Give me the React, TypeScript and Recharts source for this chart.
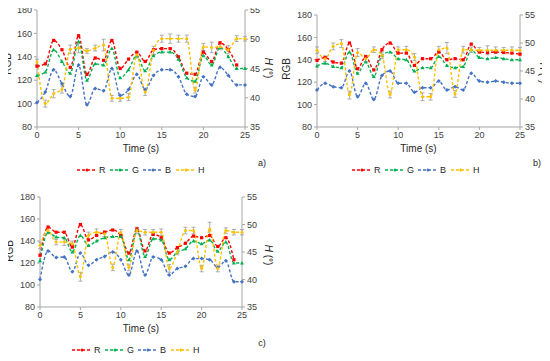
import React from "react";
import { ComposedChart, Line, XAxis, YAxis, ErrorBar } from "recharts";

const TIME = [0, 1, 2, 3, 4, 5, 6, 7, 8, 9, 10, 11, 12, 13, 14, 15, 16, 17, 18, 19, 20, 21, 22, 23, 24, 25];
const X_TICKS = [0, 5, 10, 15, 20, 25];
const RGB_TICKS = [80, 100, 120, 140, 160, 180];
const H_TICKS = [35, 40, 45, 50, 55];

// panel a)
const A_R = [132, 134, 154, 146, 131, 158, 125, 139, 137, 154, 130, 138, 144, 136, 146, 147, 147, 140, 126, 125, 144, 136, 152, 146, 133, null];
const A_G = [124, 127, 146, 136, 126, 153, 120, 134, 133, 147, 122, 129, 141, 128, 141, 144, 144, 138, 122, 119, 141, 133, 148, 140, 130, 130];
const A_B = [101, 110, 129, 117, 106, 133, 99, 113, 111, 130, 107, 112, 125, 112, 124, 129, 129, 123, 108, 106, 123, 116, 131, 124, 116, 116];
const A_H = [46.1, 39.0, 40.7, 41.4, 48.3, 48.5, 48.0, 48.5, 49.0, 39.9, 39.9, 40.1, 47.3, 41.0, 48.1, 50.1, 50.1, 50.1, 50.1, 41.3, 48.7, 48.6, 48.7, 48.2, 50.1, 50.1];
const A_HE = [0.5, 0.6, 0.7, 0.6, 0.7, 0.8, 0.4, 0.5, 1.0, 0.5, 0.5, 0.6, 0.5, 0.6, 0.7, 0.6, 0.8, 0.6, 0.6, 0.5, 0.6, 0.9, 0.5, 0.7, 0.5, 0.4];

// panel b)
const B_R = [139.5, 142, 138, 137, 155, 132, 143, 131, 149, 155, 146, 146, 135, 141, 141, 147, 140, 141, 140, 154, 147, 146.5, 147, 146.5, 146, 145];
const B_G = [134.5, 137, 134, 133, 147, 128, 138, 125, 144, 147, 141, 140, 130, 133, 133, 143, 135, 133, 134, 149, 142, 141, 142, 141, 140, 140];
const B_B = [113, 119, 116, 115, 130, 107, 119, 104.5, 126, 130, 119, 119, 111, 115, 115, 121, 113, 116, 113, 128, 121, 120, 121, 120, 119, 119];
const B_H = [48.7, 47.2, 49.4, 49.9, 40.7, 48.3, 47.2, 48.8, 47.8, 40.8, 48.8, 48.8, 47.5, 40.4, 40.4, 48.8, 49.1, 40.9, 48.8, 48.8, 48.7, 48.7, 48.7, 48.7, 48.7, 48.7];
const B_HE = [0.6, 0.5, 0.6, 0.7, 0.7, 0.7, 0.5, 0.5, 0.6, 0.6, 0.5, 0.6, 0.6, 0.7, 0.6, 0.6, 1.0, 0.6, 0.6, 0.5, 0.5, 0.8, 0.6, 0.5, 0.6, 0.5];

// panel c)
const C_R = [127, 152.7, 148, 148, 134.5, 155, 141, 145, 148, 150, 145, 129, 151, 131, 146, 143, 129, 134, 138, 144.5, 143, 145, 135, 143, 123, null];
const C_G = [122, 148, 143.6, 143, 130, 145, 136, 140, 143, 144, 144, 123, 150, 126, 142, 141, 123, 130, 133, 140, 137.5, 141, 130.6, 139, 120, 120];
const C_B = [105, 131, 125, 125.5, 112, 129, 118, 123, 126, 130, 123, 109, 131, 109, 125.5, 123, 109, 115, 117, 124, 124, 123, 116, 122, 103, 103];
const C_H = [46.2, 48.9, 46.8, 46.8, 46.5, 40.5, 48.0, 48.6, 48.3, 42.2, 48.6, 42.2, 48.9, 48.6, 48.6, 48.6, 42.0, 45.0, 48.9, 48.9, 42.0, 49.2, 42.0, 48.9, 48.6, 48.6];
const C_HE = [0.6, 0.6, 0.5, 0.6, 0.5, 0.8, 0.6, 0.6, 0.5, 0.6, 0.5, 0.6, 0.6, 0.5, 0.5, 0.6, 0.7, 0.5, 0.6, 0.6, 0.6, 1.2, 0.6, 0.5, 0.5, 0.5];

const SERIES = [
  { key: "r", name: "R", color: "#ff0000", shape: "square" },
  { key: "g", name: "G", color: "#00b050", shape: "triangle" },
  { key: "b", name: "B", color: "#4472c4", shape: "diamond" },
  { key: "h", name: "H", color: "#ffc000", shape: "circle" },
];

const FONT = "'Liberation Sans', Arial, sans-serif";
const AXIS = "#a6a6a6";
const TICK = { fontSize: 9, fill: "#404040", fontFamily: FONT };

function marker(shape: string, color: string) {
  return (props: any) => {
    const { cx, cy, index } = props;
    if (cx == null || cy == null || isNaN(cy)) return <g key={index} />;
    const s = 1.6;
    if (shape === "square")
      return <rect key={index} x={cx - s} y={cy - s} width={s * 2} height={s * 2} fill={color} />;
    if (shape === "triangle")
      return <path key={index} d={`M${cx},${cy - 2}L${cx + 2},${cy + 1.5}L${cx - 2},${cy + 1.5}Z`} fill={color} />;
    if (shape === "diamond")
      return <path key={index} d={`M${cx},${cy - 2}L${cx + 2},${cy}L${cx},${cy + 2}L${cx - 2},${cy}Z`} fill={color} />;
    return <circle key={index} cx={cx} cy={cy} r={1.5} fill={color} />;
  };
}

const txt: React.CSSProperties = {
  position: "absolute",
  fontFamily: FONT,
  fontSize: 10,
  color: "#262626",
  whiteSpace: "nowrap",
  lineHeight: 1,
};

function Panel(p: any) {
  const data = TIME.map((t, i) => ({ t, r: p.r[i], g: p.g[i], b: p.b[i], h: p.h[i], hErr: p.e[i] }));
  const plotL = p.lw;
  const plotR = 275 - p.rw;
  const mid = (plotL + plotR) / 2;
  return (
    <div style={{ position: "absolute", left: p.x, top: p.y, width: 275, height: 180 }}>
      <ComposedChart width={275} height={160} data={data} margin={{ top: p.top, right: 0, left: 0, bottom: 0 }}>
        <XAxis
          dataKey="t"
          type="number"
          domain={[0, 25]}
          ticks={X_TICKS}
          height={33}
          tick={TICK}
          tickSize={3}
          tickMargin={2}
          stroke={AXIS}
          interval={0}
        />
        <YAxis
          yAxisId="left"
          domain={[80, 180]}
          ticks={RGB_TICKS}
          width={p.lw}
          tick={TICK}
          tickSize={3}
          tickMargin={2}
          stroke={AXIS}
          interval={0}
        />
        <YAxis
          yAxisId="right"
          orientation="right"
          domain={[35, 55]}
          ticks={H_TICKS}
          width={p.rw}
          tick={TICK}
          tickSize={3}
          tickMargin={2}
          stroke={AXIS}
          interval={0}
        />
        {SERIES.map((s) => (
          <Line
            key={s.key}
            yAxisId={s.key === "h" ? "right" : "left"}
            dataKey={s.key}
            type="monotone"
            stroke={s.color}
            strokeWidth={1.4}
            strokeDasharray="3 2"
            dot={marker(s.shape, s.color)}
            activeDot={false}
            isAnimationActive={false}
          >
            {s.key === "h" ? (
              <ErrorBar dataKey="hErr" direction="y" width={2} stroke="#999999" strokeWidth={0.8} />
            ) : null}
          </Line>
        ))}
      </ComposedChart>
      <div style={{ ...txt, left: p.rgbX, top: p.top + 54, transform: "translate(-50%,-50%) rotate(-90deg)" }}>RGB</div>
      <div style={{ ...txt, left: 268, top: p.top + 58, transform: "translate(-50%,-50%) rotate(90deg)" }}>
        <i>H</i> (°)
      </div>
      <div style={{ ...txt, left: mid, top: 149, transform: "translate(-50%,-50%)" }}>Time (s)</div>
      <div style={{ ...txt, fontSize: 9, left: 262, top: 163, transform: "translate(-50%,-50%)" }}>{p.label}</div>
      {SERIES.map((s, i) => (
        <div
          key={s.key}
          style={{ position: "absolute", left: p.legX + i * 33, top: 165, height: 10, display: "flex", alignItems: "center" }}
        >
          <svg width={20} height={10}>
            <line x1={0} y1={5} x2={20} y2={5} stroke={s.color} strokeWidth={1.4} strokeDasharray="3 2" />
            <circle cx={10} cy={5} r={1.5} fill={s.color} />
          </svg>
          <span style={{ fontFamily: FONT, fontSize: 9, color: "#262626", marginLeft: 2 }}>{s.name}</span>
        </div>
      ))}
    </div>
  );
}

export default function App() {
  return (
    <div style={{ position: "relative", width: 550, height: 361, background: "#fff", margin: -8 }}>
      <Panel x={0} y={0} top={10} lw={37} rw={30} rgbX={8} r={A_R} g={A_G} b={A_B} h={A_H} e={A_HE} label="a)" legX={77} />
      <Panel x={275} y={0} top={15} lw={42} rw={30} rgbX={12} r={B_R} g={B_G} b={B_B} h={B_H} e={B_HE} label="b)" legX={77} />
      <Panel x={0} y={180} top={17} lw={40} rw={33} rgbX={10} r={C_R} g={C_G} b={C_B} h={C_H} e={C_HE} label="c)" legX={72} />
    </div>
  );
}
